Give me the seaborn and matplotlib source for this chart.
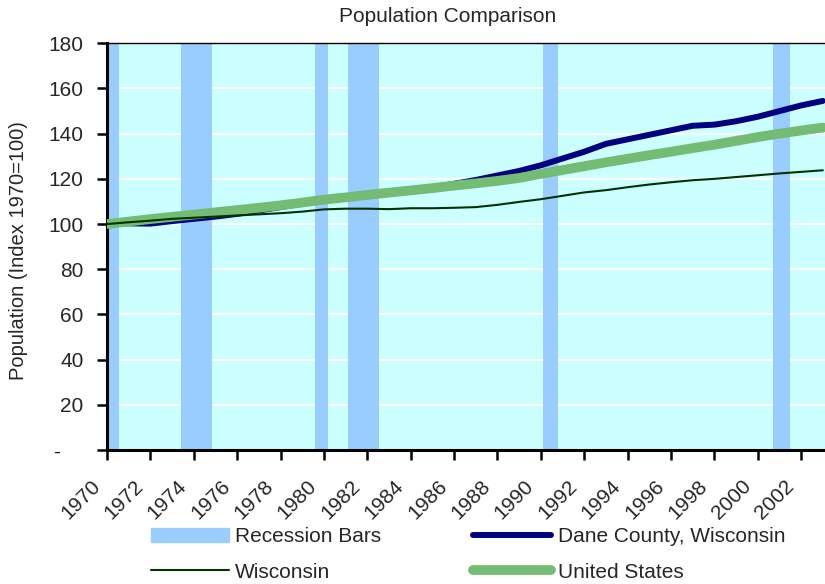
import numpy as np
import pandas as pd
import matplotlib
matplotlib.use('Agg')
import matplotlib.pyplot as plt
import matplotlib.transforms as mtransforms
import seaborn as sns
from matplotlib.patches import Patch
from matplotlib.lines import Line2D

years = list(range(1970, 2004))
dane = [100, 100.3, 100.2, 101.3, 102.3, 103.3, 104.5, 106, 107.5, 109,
        110.8, 112, 113, 114, 115, 116.3, 117.8, 119.5, 121.5, 123.5,
        126, 129, 132, 135.5, 137.5, 139.5, 141.5, 143.5, 144, 145.5,
        147.5, 150, 152.5, 154.5]
wisconsin = [100, 100.8, 101.5, 102.3, 102.8, 103.3, 103.8, 104.3, 104.8, 105.5,
             106.5, 106.8, 106.8, 106.6, 107, 107, 107.2, 107.5, 108.5, 109.8,
             111, 112.5, 114, 115, 116.3, 117.5, 118.5, 119.4, 120, 120.8,
             121.6, 122.4, 123.1, 123.8]
us = [100, 101.1, 102.2, 103.2, 104.2, 105.2, 106.2, 107.2, 108.3, 109.5,
      110.8, 111.8, 112.9, 113.9, 114.9, 115.9, 117, 118, 119.1, 120.4,
      122.2, 123.9, 125.6, 127.3, 128.9, 130.5, 132, 133.6, 135.1, 136.8,
      138.5, 140, 141.4, 142.7]
rec_start = [1970.0, 1973.4, 1979.6, 1981.1, 1990.1, 2000.7]
rec_end = [1970.55, 1974.85, 1980.2, 1982.55, 1990.8, 2001.5]
y_ticks = [0, 20, 40, 60, 80, 100, 120, 140, 160, 180]
y_labels = ['-    ', '20', '40', '60', '80', '100', '120', '140', '160', '180']

df = pd.DataFrame({'year': years, 'dane': dane, 'wi': wisconsin, 'us': us})

sns.set_style('white')
plt.rcParams['font.family'] = ['Liberation Sans', 'DejaVu Sans']

fig = plt.figure(figsize=(8.25, 5.84), dpi=100)
ax = fig.add_axes([107/825, 1-450/584, 1-107/825, (450-43.3)/584])
ax.set_facecolor('#CCFFFF')

for t in y_ticks[1:]:
    ax.axhline(t, color='white', lw=1.6, zorder=1)

widths = [e - s for s, e in zip(rec_start, rec_end)]
ax.bar(rec_start, 180, width=widths, align='edge', color='#99CCFF', zorder=2, linewidth=0)

us_col = '#74BC74'
sns.lineplot(data=df, x='year', y='dane', ax=ax, color='#000080', lw=4.3, zorder=3)
sns.lineplot(data=df, x='year', y='us', ax=ax, color=us_col, lw=7, zorder=4)
sns.lineplot(data=df, x='year', y='wi', ax=ax, color='#003300', lw=1.5, zorder=5)

ax.set_xlim(1970, 2003.1)
ax.set_ylim(0, 180)
ax.set_yticks(y_ticks)
ax.set_yticklabels(y_labels, fontsize=15)
ax.set_xticks(list(range(1970, 2004, 2)))
ax.set_xticklabels([str(y) for y in range(1970, 2004, 2)], fontsize=15,
                   rotation=45, ha='right', va='center', rotation_mode='anchor')
ax.tick_params(axis='both', direction='out', length=7, width=1.8, color='black',
               left=True, bottom=True)
ax.tick_params(axis='y', pad=10)
ax.tick_params(axis='x', pad=17)
shift = mtransforms.ScaledTranslation(-10/100, 0, fig.dpi_scale_trans)
for lab in ax.get_xticklabels():
    lab.set_transform(lab.get_transform() + shift)
ax.set_xlabel('')
ax.set_ylabel('Population (Index 1970=100)', fontsize=14.5)
ax.yaxis.set_label_coords((28-107)/718, 0.49)

for side in ['left', 'bottom']:
    ax.spines[side].set_linewidth(2.2)
    ax.spines[side].set_color('black')
ax.spines['top'].set_linewidth(1)
ax.spines['top'].set_color('black')
ax.spines['right'].set_visible(False)

fig.text(448/825, 1-17/584, 'Population Comparison', fontsize=15, ha='center', va='center')

handles = [Patch(color='#99CCFF'),
           Line2D([], [], color='#003300', lw=1.5),
           Line2D([], [], color='#000080', lw=4.3),
           Line2D([], [], color=us_col, lw=7)]
labels = ['Recession Bars', 'Wisconsin', 'Dane County, Wisconsin', 'United States']
fig.legend(handles, labels, ncol=2, frameon=False, fontsize=15,
           loc='upper left', bbox_to_anchor=(151/825, 1-527/584),
           borderpad=0, borderaxespad=0, handlelength=3.75, handletextpad=0.3,
           labelspacing=0.8, columnspacing=4.4, handleheight=0.67)

fig.savefig('out.png', dpi=100)
